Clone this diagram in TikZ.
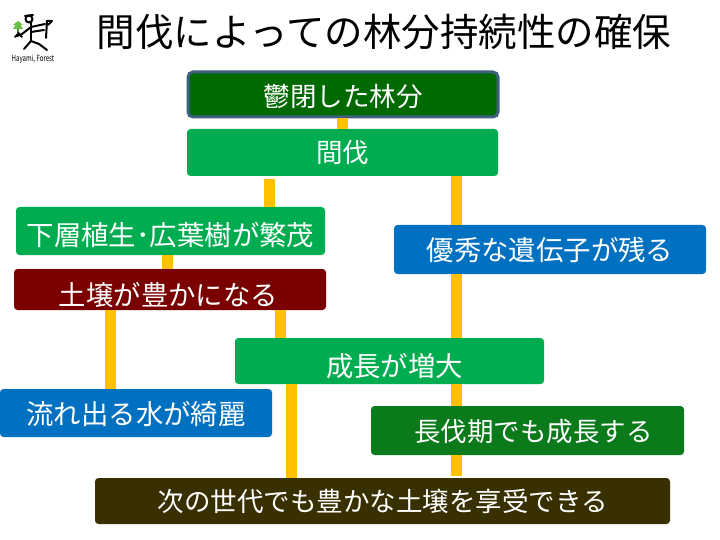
\documentclass[tikz,border=0pt]{standalone}
\usepackage{fontspec}
\setmainfont{Noto Sans CJK JP}
\definecolor{cOrange}{HTML}{FFC000}
\definecolor{cDark}{HTML}{006A00}
\definecolor{cEdge}{HTML}{3D6080}
\definecolor{cGreen}{HTML}{00AC50}
\definecolor{cBlue}{HTML}{0070C0}
\definecolor{cRed}{HTML}{7A0000}
\definecolor{cMid}{HTML}{0A7A1A}
\definecolor{cOlive}{HTML}{383000}
\definecolor{cTree}{HTML}{6DBE45}
\tikzset{
  x=1pt,y=-1pt,
  fbox/.style={rectangle,rounded corners=3.5pt,draw=none,inner sep=0pt},
  tx/.style={inner sep=0pt,text=white,font=\fontsize{26.5}{28}\selectfont},
  txb/.style={inner sep=0pt,text=white,font=\fontsize{27.4}{29}\selectfont},
  conn/.style={draw=cOrange,line width=11pt},
  ink/.style={black,line width=2pt,line cap=round,line join=round},
}
\begin{document}
\begin{tikzpicture}
\useasboundingbox (0,0) rectangle (720,540);
\fill[white] (0,0) rectangle (720,540);
% x positions of the connectors
\coordinate (xa) at (342,0);
\coordinate (xb) at (269,0);
\coordinate (xc) at (456,0);
\coordinate (xd) at (167,0);
\coordinate (xe) at (110,0);
\coordinate (xf) at (280,0);
\coordinate (xg) at (291.7,0);
% title
\node[font=\fontsize{38.5}{40}\selectfont,inner sep=0pt] (title) at (384,32) {間伐によっての林分持続性の確保};
% boxes
\node[fbox,fill=cDark,draw=cEdge,line width=3pt,minimum width=310pt,minimum height=45pt,rounded corners=5pt,
  label={[tx,yshift=-1.5pt]center:鬱閉した林分}] (a) at (343,94.5) {};
\node[fbox,fill=cGreen,minimum width=311pt,minimum height=47pt,
  label={[tx]center:間伐}] (b) at (342.5,152.5) {};
\node[fbox,fill=cGreen,minimum width=309pt,minimum height=48pt,
  label={[txb,yshift=-4pt]center:下層植生･広葉樹が繁茂}] (c) at (170.5,231) {};
\node[fbox,fill=cBlue,minimum width=312pt,minimum height=49pt,
  label={[txb]center:優秀な遺伝子が残る}] (d) at (550,249.5) {};
\node[fbox,fill=cRed,minimum width=312pt,minimum height=41pt,
  label={[txb,xshift=-1.5pt,yshift=-5.5pt]center:土壌が豊かになる}] (e) at (170,289.5) {};
\node[fbox,fill=cGreen,minimum width=309pt,minimum height=46pt,
  label={[txb,xshift=5pt,yshift=-5pt]center:成長が増大}] (f) at (389.5,361) {};
\node[fbox,fill=cBlue,minimum width=272pt,minimum height=48pt,
  label={[txb,yshift=-1pt]center:流れ出る水が綺麗}] (g) at (136,413) {};
\node[fbox,fill=cMid,minimum width=313pt,minimum height=49pt,
  label={[tx,xshift=6pt,yshift=-1.5pt]center:長伐期でも成長する}] (h) at (527.5,430.5) {};
\node[fbox,fill=cOlive,minimum width=575pt,minimum height=46pt,
  label={[tx]center:次の世代でも豊かな土壌を享受できる}] (i) at (382.5,501) {};
% connectors
\draw[conn] (a.south -| xa) -- (b.north -| xa);
\draw[conn,shorten <=3pt] (b.south -| xb) -- (c.north -| xb);
\draw[conn] (b.south -| xc) -- (d.north -| xc);
\draw[conn] (c.south -| xd) -- (e.north -| xd);
\draw[conn] (d.south -| xc) -- (f.north -| xc);
\draw[conn] (e.south -| xe) -- (g.north -| xe);
\draw[conn] (e.south -| xf) -- (f.north -| xf);
\draw[conn] (f.south -| xg) -- (i.north -| xg);
\draw[conn] (f.south -| xc) -- (h.north -| xc);
\draw[conn,shorten >=2pt] (h.south -| xc) -- (i.north -| xc);
% logo
\fill[cTree] (18,21) -- (23,25) -- (20.5,25) -- (23,29) -- (13,29) -- (15.5,25) -- (13,25) -- cycle;
\draw[cTree!70!black,line width=1.2pt] (18,29) -- (18,33);
\draw[ink] (29,19) circle (3.5);
\draw[ink] (25,16) -- (33,15);
\draw[ink] (31,23) -- (31,41);
\draw[ink] (31,41) -- (24,49) (31,41) -- (39,44) -- (47,50);
\draw[ink] (31,27) -- (45,24) (31,32) -- (44,30);
\draw[ink] (31,27) -- (22,34) -- (17,36);
\draw[ink] (19,33) -- (15,37) (18,33) -- (22,37);
\draw[ink] (47,21) -- (46,38);
\draw[ink] (47,21) -- (52,21) -- (48,25);
\node[inner sep=0pt,xscale=0.72,font=\fontsize{8.5}{9}\selectfont] (logotext) at (33,59) {Hayami, Forest};
\end{tikzpicture}
\end{document}
